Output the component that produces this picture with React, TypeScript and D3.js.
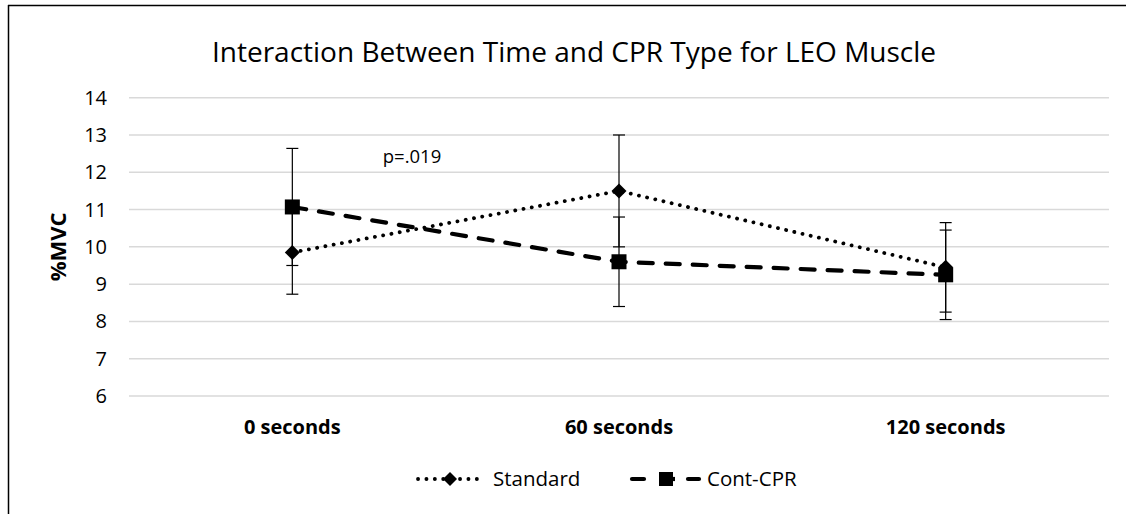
import React, { useEffect } from "react";
import * as d3 from "d3";

const categories = ["0 seconds", "60 seconds", "120 seconds"];
const standardMean = [9.85, 11.5, 9.45];
const standardErr = [1.12, 1.5, 1.2];
const contMean = [11.07, 9.6, 9.25];
const contErr = [1.57, 1.2, 1.2];
const yTicks = [6, 7, 8, 9, 10, 11, 12, 13, 14];
const seriesNames = ["Standard", "Cont-CPR"];

const W = 1126;
const H = 514;
const FONT = "'Open Sans', 'Noto Sans', sans-serif";

export default function App() {
  useEffect(() => {
    document.documentElement.style.overflow = "hidden";
    document.body.style.margin = "0";
    document.body.style.overflow = "hidden";
  }, []);

  const x = d3.scaleBand<string>().domain(categories).range([129, 1109]);
  const y = d3.scaleLinear().domain([6, 14]).range([396, 97.7]);
  const cx = (c: string) => (x(c) as number) + x.bandwidth() / 2;

  const line = d3
    .line<[number, number]>()
    .x((d) => d[0])
    .y((d) => d[1]);

  const stdPts: [number, number][] = categories.map((c, i) => [cx(c), y(standardMean[i])]);
  const contPts: [number, number][] = categories.map((c, i) => [cx(c), y(contMean[i])]);

  const diamond = (px: number, py: number, r: number) =>
    `M${px},${py - r}L${px + r},${py}L${px},${py + r}L${px - r},${py}Z`;

  const errBar = (px: number, m: number, e: number, key: string) => (
    <g key={key} stroke="#000" strokeWidth={1.2}>
      <line x1={px} x2={px} y1={y(m + e)} y2={y(m - e)} />
      <line x1={px - 6} x2={px + 6} y1={y(m + e)} y2={y(m + e)} />
      <line x1={px - 6} x2={px + 6} y1={y(m - e)} y2={y(m - e)} />
    </g>
  );

  return (
    <svg
      width={W}
      height={H}
      style={{ display: "block", background: "#fff" }}
      fontFamily={FONT}
    >
      <rect x={0} y={0} width={W} height={H} fill="#fff" />
      {/* chart frame */}
      <line x1={8.5} x2={8.5} y1={5} y2={H} stroke="#000" strokeWidth={1.5} />
      <line x1={8} x2={W} y1={5.5} y2={5.5} stroke="#000" strokeWidth={1.5} />

      <text x={574} y={62} textAnchor="middle" fontSize={28} fill="#000">
        Interaction Between Time and CPR Type for LEO Muscle
      </text>

      {/* gridlines */}
      {yTicks.map((t) => (
        <line key={t} x1={129} x2={1109} y1={y(t)} y2={y(t)} stroke="#d9d9d9" strokeWidth={1.5} />
      ))}
      {yTicks.map((t) => (
        <text key={"l" + t} x={107} y={y(t) + 7} textAnchor="end" fontSize={20} fill="#000">
          {t}
        </text>
      ))}
      <text
        transform={`translate(66,${(y(6) + y(14)) / 2}) rotate(-90)`}
        textAnchor="middle"
        fontSize={22}
        fontWeight="bold"
        fill="#000"
      >
        %MVC
      </text>

      {categories.map((c) => (
        <text key={c} x={cx(c)} y={434} textAnchor="middle" fontSize={20} fontWeight="bold" fill="#000">
          {c}
        </text>
      ))}

      <text x={412} y={163} textAnchor="middle" fontSize={18.5} fill="#000">
        p=.019
      </text>

      {/* error bars */}
      {categories.map((c, i) => errBar(cx(c), standardMean[i], standardErr[i], "se" + i))}
      {categories.map((c, i) => errBar(cx(c), contMean[i], contErr[i], "ce" + i))}

      {/* standard series */}
      <path
        d={line(stdPts) || ""}
        fill="none"
        stroke="#000"
        strokeWidth={3.8}
        strokeDasharray="0.1,8.3"
        strokeLinecap="round"
      />
      {stdPts.map((p, i) => (
        <path key={"sd" + i} d={diamond(p[0], p[1], 7.5)} fill="#000" />
      ))}

      {/* cont-cpr series */}
      <path
        d={line(contPts) || ""}
        fill="none"
        stroke="#000"
        strokeWidth={4.2}
        strokeDasharray="14,13"
        strokeLinecap="round"
      />
      {contPts.map((p, i) => (
        <rect key={"cs" + i} x={p[0] - 7.5} y={p[1] - 7.5} width={15} height={15} fill="#000" />
      ))}

      {/* legend */}
      <g>
        <line x1={418} x2={480} y1={479} y2={479} stroke="#000" strokeWidth={3.8} strokeDasharray="0.1,8.3" strokeLinecap="round" />
        <path d={diamond(450, 479, 7)} fill="#000" />
        <text x={493} y={486} fontSize={20.5} fill="#000">
          {seriesNames[0]}
        </text>
        <line x1={632} x2={644} y1={479} y2={479} stroke="#000" strokeWidth={4.2} strokeLinecap="round" />
        <line x1={688} x2={699} y1={479} y2={479} stroke="#000" strokeWidth={4.2} strokeLinecap="round" />
        <line x1={660} x2={675} y1={479} y2={479} stroke="#000" strokeWidth={4.2} />
        <rect x={659} y={472} width={14} height={14} fill="#000" />
        <text x={707} y={486} fontSize={20.5} fill="#000">
          {seriesNames[1]}
        </text>
      </g>
    </svg>
  );
}
